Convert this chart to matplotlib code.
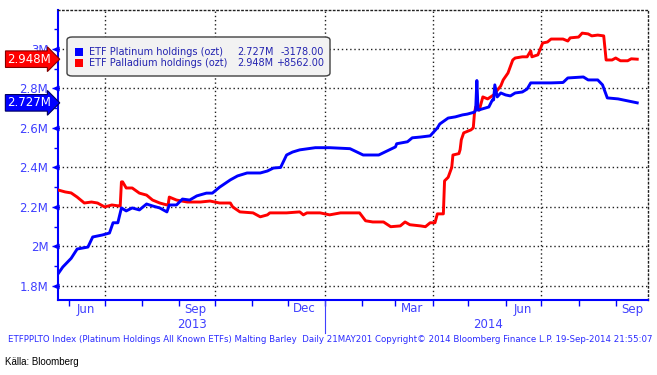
import matplotlib
matplotlib.use("Agg")
import matplotlib.pyplot as plt
import matplotlib.dates as mdates
from matplotlib.patches import FancyBboxPatch, Rectangle
import numpy as np
import pandas as pd

# ---------------- data ----------------
plat_dates = ["2013-05-23", "2013-05-27", "2013-06-03", "2013-06-08", "2013-06-17", "2013-06-21",
              "2013-06-29", "2013-07-05", "2013-07-08", "2013-07-12", "2013-07-15", "2013-07-19",
              "2013-07-24", "2013-07-30", "2013-08-05", "2013-08-10", "2013-08-16", "2013-08-22",
              "2013-08-24", "2013-08-30", "2013-09-04", "2013-09-10", "2013-09-16", "2013-09-24",
              "2013-09-29", "2013-10-05", "2013-10-14", "2013-10-20", "2013-10-28", "2013-11-08",
              "2013-11-14", "2013-11-19", "2013-11-25", "2013-11-30", "2013-12-05", "2013-12-11",
              "2013-12-24", "2014-01-05", "2014-01-22", "2014-02-02", "2014-02-15", "2014-03-01",
              "2014-03-02", "2014-03-11", "2014-03-15", "2014-03-22", "2014-03-30", "2014-04-05",
              "2014-04-07", "2014-04-14", "2014-04-20", "2014-04-26", "2014-04-30", "2014-05-06",
              "2014-05-07", "2014-05-08", "2014-05-09", "2014-05-18", "2014-05-21", "2014-05-22",
              "2014-05-23", "2014-05-25", "2014-05-28", "2014-06-01", "2014-06-05", "2014-06-09",
              "2014-06-15", "2014-06-19", "2014-06-22", "2014-06-30", "2014-07-09", "2014-07-19",
              "2014-07-23", "2014-08-05", "2014-08-09", "2014-08-17", "2014-08-21", "2014-08-25",
              "2014-09-03", "2014-09-11", "2014-09-19"]
plat_vals = [1.861, 1.896, 1.940, 1.987, 1.997, 2.048,
             2.058, 2.068, 2.120, 2.120, 2.195, 2.180,
             2.195, 2.185, 2.215, 2.205, 2.195, 2.175,
             2.210, 2.210, 2.240, 2.235, 2.256, 2.270,
             2.270, 2.300, 2.337, 2.357, 2.372, 2.372,
             2.382, 2.397, 2.400, 2.463, 2.478, 2.489,
             2.500, 2.500, 2.495, 2.463, 2.463, 2.504,
             2.520, 2.530, 2.550, 2.554, 2.560, 2.600,
             2.620, 2.650, 2.656, 2.666, 2.670, 2.680,
             2.690, 2.840, 2.690, 2.706, 2.742, 2.742,
             2.818, 2.757, 2.777, 2.767, 2.762, 2.777,
             2.782, 2.797, 2.828, 2.828, 2.828, 2.830,
             2.853, 2.858, 2.843, 2.843, 2.818, 2.752,
             2.747, 2.737, 2.727]

pall_dates = ["2013-05-23", "2013-05-29", "2013-06-03", "2013-06-08", "2013-06-14", "2013-06-20",
              "2013-06-25", "2013-07-01", "2013-07-07", "2013-07-13", "2013-07-14", "2013-07-15",
              "2013-07-16", "2013-07-19", "2013-07-24", "2013-07-30", "2013-08-05", "2013-08-10",
              "2013-08-16", "2013-08-22", "2013-08-23", "2013-08-24", "2013-08-30", "2013-09-08",
              "2013-09-19", "2013-09-27", "2013-10-05", "2013-10-14", "2013-10-16", "2013-10-22",
              "2013-11-02", "2013-11-08", "2013-11-14", "2013-11-16", "2013-11-30", "2013-12-11",
              "2013-12-14", "2013-12-17", "2013-12-28", "2014-01-05", "2014-01-14", "2014-01-30",
              "2014-02-04", "2014-02-10", "2014-02-19", "2014-02-25", "2014-03-05", "2014-03-09",
              "2014-03-13", "2014-03-22", "2014-03-26", "2014-03-30", "2014-04-03", "2014-04-05",
              "2014-04-10", "2014-04-11", "2014-04-14", "2014-04-17", "2014-04-18", "2014-04-23",
              "2014-04-24", "2014-04-25", "2014-04-27", "2014-05-03", "2014-05-05", "2014-05-06",
              "2014-05-07", "2014-05-10", "2014-05-13", "2014-05-17", "2014-05-22", "2014-05-28",
              "2014-05-30", "2014-06-03", "2014-06-07", "2014-06-09", "2014-06-15", "2014-06-19",
              "2014-06-22", "2014-06-23", "2014-06-28", "2014-07-02", "2014-07-06", "2014-07-09",
              "2014-07-19", "2014-07-23", "2014-07-25", "2014-08-01", "2014-08-04", "2014-08-09",
              "2014-08-12", "2014-08-17", "2014-08-22", "2014-08-24", "2014-08-29", "2014-09-01",
              "2014-09-05", "2014-09-11", "2014-09-14", "2014-09-19"]
pall_vals = [2.286, 2.276, 2.271, 2.250, 2.220, 2.225,
             2.220, 2.200, 2.210, 2.205, 2.205, 2.327,
             2.327, 2.296, 2.296, 2.270, 2.260, 2.235,
             2.220, 2.210, 2.210, 2.250, 2.235, 2.225,
             2.225, 2.230, 2.220, 2.220, 2.200, 2.175,
             2.170, 2.150, 2.160, 2.170, 2.170, 2.175,
             2.160, 2.170, 2.170, 2.160, 2.170, 2.170,
             2.130, 2.124, 2.124, 2.100, 2.104, 2.124,
             2.110, 2.104, 2.100, 2.120, 2.120, 2.165,
             2.165, 2.332, 2.350, 2.400, 2.463, 2.470,
             2.490, 2.540, 2.575, 2.590, 2.600, 2.676,
             2.706, 2.690, 2.757, 2.747, 2.767, 2.813,
             2.843, 2.878, 2.944, 2.954, 2.960, 2.960,
             2.990, 2.960, 2.970, 3.030, 3.035, 3.050,
             3.050, 3.040, 3.056, 3.060, 3.080, 3.076,
             3.066, 3.070, 3.066, 2.944, 2.944, 2.954,
             2.940, 2.940, 2.950, 2.948]

series_names = ["ETF Platinum holdings (ozt)", "ETF Palladium holdings (ozt)"]
last_values = ["2.727M", "2.948M"]
changes = ["-3178.00", "+8562.00"]
y_ticks = [1.8, 2.0, 2.2, 2.4, 2.6, 2.8, 3.0]
y_tick_labels = ["1.8M", "2M", "2.2M", "2.4M", "2.6M", "2.8M", "3M"]
month_labels = [("2013-06-15", "Jun"), ("2013-09-15", "Sep"), ("2013-12-15", "Dec"),
                ("2014-03-15", "Mar"), ("2014-06-15", "Jun"), ("2014-09-15", "Sep")]
year_labels = [("2013-09-12", "2013"), ("2014-05-17", "2014")]
footer = ("ETFPPLTO Index (Platinum Holdings All Known ETFs) Malting Barley  Daily 21MAY201 "
          "Copyright\u00a9 2014 Bloomberg Finance L.P. 19-Sep-2014 21:55:07")
source = "K\u00e4lla: Bloomberg"

# ---------------- style ----------------
BLUE = "#0000ff"
RED = "#ff0000"
TICKC = "#4040ff"

W, H = 657, 375
fig = plt.figure(figsize=(W / 100, H / 100), dpi=100)
L, R, T, B = 58, 648, 10, 300
ax = fig.add_axes([L / W, 1 - B / H, (R - L) / W, (B - T) / H])

pd_plat = pd.to_datetime(plat_dates)
pd_pall = pd.to_datetime(pall_dates)
ax.plot(pd_plat, plat_vals, color=BLUE, lw=2.1, solid_joinstyle="round", zorder=4)
ax.plot(pd_pall, pall_vals, color=RED, lw=2.1, solid_joinstyle="round", zorder=3)

ax.set_xlim(pd.Timestamp("2013-05-23"), pd.Timestamp("2014-09-28"))
ax.set_ylim(1.729, 3.197)

# y axis
ax.set_yticks(y_ticks)
ax.set_yticklabels(y_tick_labels)
ax.set_yticks(np.arange(1.9, 3.15, 0.2), minor=True)
ax.tick_params(axis="y", which="major", length=4, width=1, color=BLUE, labelcolor=TICKC,
               labelsize=8.5, pad=3)
ax.tick_params(axis="y", which="minor", length=3, width=1, color=BLUE)
yblend = matplotlib.transforms.blended_transform_factory(ax.transAxes, ax.transData)
for yv in y_ticks:
    ax.plot([-0.004], [yv], transform=yblend,
            marker="<", ms=3.5, color=BLUE, clip_on=False, zorder=6)

# x axis
quarters = pd.to_datetime(["2013-07-01", "2013-10-01", "2014-01-01", "2014-04-01", "2014-07-01"])
months = pd.date_range("2013-06-01", "2014-09-01", freq="MS")
ax.set_xticks(quarters)
ax.set_xticklabels([""] * len(quarters))
ax.set_xticks(months, minor=True)
ax.tick_params(axis="x", which="both", length=4, width=1, color=BLUE)

ax.grid(True, which="major", color="#202020", linestyle=(0, (1, 2)), linewidth=1)

for s in ["left", "bottom"]:
    ax.spines[s].set_color(BLUE)
    ax.spines[s].set_linewidth(1.5)
for s in ["top", "right"]:
    ax.spines[s].set_color("#202020")
    ax.spines[s].set_linestyle((0, (1, 2)))
    ax.spines[s].set_linewidth(1)

bt = matplotlib.transforms.blended_transform_factory(ax.transData, fig.transFigure)
for d, lab in month_labels:
    ax.text(pd.Timestamp(d), 1 - 309 / H, lab, transform=bt, ha="center", va="center",
            color=TICKC, fontsize=8.5, clip_on=False)
for d, lab in year_labels:
    ax.text(pd.Timestamp(d), 1 - 325 / H, lab, transform=bt, ha="center", va="center",
            color=TICKC, fontsize=8.5, clip_on=False)
ax.plot([pd.Timestamp("2014-01-01")] * 2, [1 - 300 / H, 1 - 333 / H], transform=bt,
        color=TICKC, lw=0.8, clip_on=False)

fig.text(330 / W, 1 - 340 / H, footer, ha="center", va="center", color="#2a2aff", fontsize=6.2)
fig.text(5 / W, 1 - 362 / H, source, ha="left", va="center", color="black", fontsize=7,
         family="Liberation Sans")

# value flags on left
yt = matplotlib.transforms.blended_transform_factory(fig.transFigure, ax.transData)
ax.text(51 / W, pall_vals[-1], last_values[1], transform=yt, ha="right", va="center",
        color="white", fontsize=8.5,
        bbox=dict(boxstyle="rarrow,pad=0.15", fc=RED, ec="#800000", lw=0.8), zorder=7)
ax.text(51 / W, plat_vals[-1], last_values[0], transform=yt, ha="right", va="center",
        color="white", fontsize=8.5,
        bbox=dict(boxstyle="rarrow,pad=0.15", fc=BLUE, ec="#000060", lw=0.8), zorder=7)

# legend box
lx0, ly0, lx1, ly1 = 67, 37, 330, 76
box = FancyBboxPatch((lx0 / W, 1 - ly1 / H), (lx1 - lx0) / W, (ly1 - ly0) / H,
                     boxstyle="round,pad=0,rounding_size=0.008", transform=fig.transFigure,
                     fc="#f2f2f2", ec="#404040", lw=1, zorder=8)
fig.add_artist(box)
LEGC = "#2323b0"
for i, (col, name, lv, ch) in enumerate(zip([BLUE, RED], series_names, last_values, changes)):
    yc = [52, 63][i]
    fig.add_artist(Rectangle((75 / W, 1 - (yc + 4) / H), 8 / W, 8 / H, transform=fig.transFigure,
                             fc=col, ec="none", zorder=9))
    fig.text(89 / W, 1 - yc / H, name, ha="left", va="center", color=LEGC, fontsize=7, zorder=9)
    fig.text(237 / W, 1 - yc / H, lv, ha="left", va="center", color=LEGC, fontsize=7, zorder=9)
    fig.text(324 / W, 1 - yc / H, ch, ha="right", va="center", color=LEGC, fontsize=7, zorder=9)

fig.savefig("out.png", dpi=100)
